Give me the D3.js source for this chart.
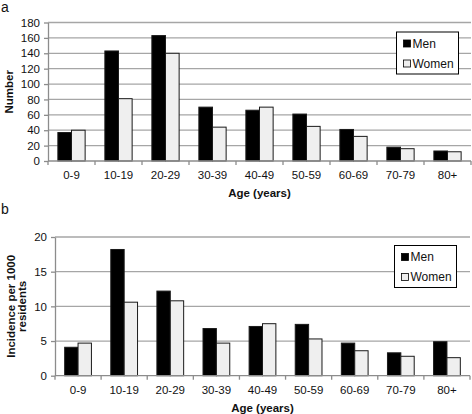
<!DOCTYPE html>
<html><head><meta charset="utf-8">
<script src="https://cdn.jsdelivr.net/npm/d3@7"></script>
<style>
body{margin:0;background:#fff;}
text{font-family:"Liberation Sans",Arial,sans-serif;}
</style></head>
<body><svg id="c" width="472" height="414"></svg>
<script>
const categories = ["0-9","10-19","20-29","30-39","40-49","50-59","60-69","70-79","80+"];
const seriesNames = ["Men","Women"];
const countMen   = [37,143,163,70,66,61,41,18,13];
const countWomen = [40,81,140,44,70,45,32,16,12];
const incMen     = [4.1,18.2,12.2,6.8,7.1,7.4,4.7,3.3,4.9];
const incWomen   = [4.7,10.6,10.8,4.7,7.5,5.3,3.6,2.8,2.6];
const ticksA = [0,20,40,60,80,100,120,140,160,180];
const ticksB = [0,5,10,15,20];
const colors = {Men:"#000000", Women:"#efefef"};

const svg = d3.select("#c");

function panel(o){
  const g = svg.append("g");
  const x = d3.scaleBand().domain(categories).range([o.x0,o.x1]).paddingInner(0.42).paddingOuter(0.21);
  const x1 = d3.scaleBand().domain(seriesNames).range([0,x.bandwidth()]);
  const y = d3.scaleLinear().domain([0,o.max]).range([o.y0,o.y1]);
  g.selectAll(".grid").data(o.ticks.filter(t=>t>0)).join("line")
    .attr("x1",o.x0).attr("x2",o.x1).attr("y1",d=>y(d)).attr("y2",d=>y(d))
    .attr("stroke","#a6a6a6").attr("stroke-width",1.3);
  const ya = g.append("g").attr("transform",`translate(${o.x0},0)`)
    .call(d3.axisLeft(y).tickValues(o.ticks).tickSize(4).tickSizeOuter(0).tickPadding(4));
  ya.select(".domain").attr("stroke","#8c8c8c").attr("stroke-width",1.3);
  ya.selectAll(".tick line").attr("stroke","#8c8c8c").attr("stroke-width",1.3);
  ya.selectAll(".tick text").attr("font-size",11.5).attr("fill","#111").attr("font-family","Liberation Sans, Arial, sans-serif");
  const data = categories.map((c,i)=>({c, vals:[{k:"Men",v:o.men[i]},{k:"Women",v:o.women[i]}]}));
  const grp = g.selectAll(".grp").data(data).join("g").attr("transform",d=>`translate(${x(d.c)},0)`);
  grp.selectAll("rect").data(d=>d.vals).join("rect")
    .attr("x",d=>x1(d.k)).attr("width",x1.bandwidth())
    .attr("y",d=>y(d.v)).attr("height",d=>o.y0-y(d.v))
    .attr("fill",d=>colors[d.k]).attr("stroke","#1a1a1a").attr("stroke-width",1);
  const xa = g.append("g").attr("transform",`translate(0,${o.y0})`);
  xa.append("line").attr("x1",o.x0).attr("x2",o.x1).attr("stroke","#8c8c8c").attr("stroke-width",1.3);
  const bounds = d3.range(categories.length+1).map(i=>o.x0+i*(o.x1-o.x0)/categories.length);
  xa.selectAll(".xt").data(bounds).join("line").attr("x1",d=>d).attr("x2",d=>d).attr("y1",0).attr("y2",4)
    .attr("stroke","#8c8c8c").attr("stroke-width",1.3);
  xa.selectAll(".xl").data(categories).join("text")
    .attr("x",d=>x(d)+x.bandwidth()/2).attr("y",18).attr("text-anchor","middle")
    .attr("font-size",11.5).attr("fill","#111").text(d=>d);
  g.append("text").attr("x",(o.x0+o.x1)/2).attr("y",o.y0+36).attr("text-anchor","middle")
    .attr("font-size",11.5).attr("font-weight","bold").attr("fill","#111").text("Age (years)");
  const cy=(o.y0+o.y1)/2;
  o.ytitle.forEach((t,i)=>{
    g.append("text").attr("transform",`translate(${o.ytx[i]},${cy}) rotate(-90)`)
      .attr("text-anchor","middle").attr("font-size",11.5).attr("font-weight","bold").attr("fill","#111").text(t);
  });
  g.append("text").attr("x",o.lx).attr("y",o.ly).attr("font-size",14).attr("fill","#111").text(o.letter);
  const L = g.append("g").attr("transform",`translate(${o.lgx},${o.lgy})`);
  L.append("rect").attr("width",62).attr("height",42).attr("fill","#fff").attr("stroke","#000").attr("stroke-width",1);
  seriesNames.forEach((s,i)=>{
    L.append("rect").attr("x",7).attr("y",8+i*20).attr("width",7).attr("height",7)
      .attr("fill",colors[s]).attr("stroke","#000").attr("stroke-width",0.8);
    L.append("text").attr("x",16).attr("y",15.5+i*20).attr("font-size",12).attr("fill","#111").text(s);
  });
}

panel({x0:48,x1:471,y0:161,y1:22.5,max:180,ticks:ticksA,men:countMen,women:countWomen,
  ytitle:["Number"],ytx:[12.5],letter:"a",lx:1,ly:12,lgx:396.5,lgy:32});
panel({x0:55,x1:470,y0:375.7,y1:237,max:20,ticks:ticksB,men:incMen,women:incWomen,
  ytitle:["Incidence per 1000","residents"],ytx:[15,26],letter:"b",lx:1,ly:214,lgx:394.5,lgy:245.5});
</script></body></html>
